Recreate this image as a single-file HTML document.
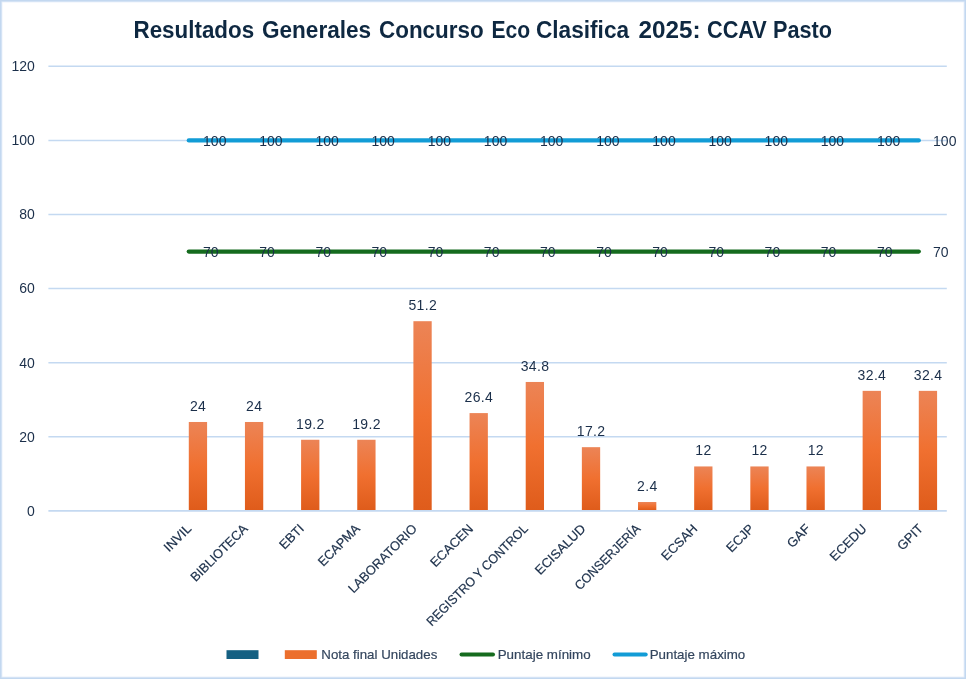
<!DOCTYPE html>
<html><head><meta charset="utf-8"><title>Resultados Generales Concurso Eco Clasifica 2025</title><style>
html,body{margin:0;padding:0;background:#fff;}
body{width:966px;height:679px;overflow:hidden;}
svg{display:block;will-change:transform;}
text{font-family:"Liberation Sans",sans-serif;}
</style></head><body>
<svg width="966" height="679" viewBox="0 0 966 679">
<defs>
<linearGradient id="og" x1="0" y1="0" x2="0" y2="1">
<stop offset="0" stop-color="#ec8456"/>
<stop offset="0.5" stop-color="#f07030"/>
<stop offset="1" stop-color="#df5c1b"/>
</linearGradient>
<filter id="bl" x="-1%" y="-1%" width="102%" height="102%"><feGaussianBlur stdDeviation="0.45"/></filter>
</defs>

<rect x="0" y="0" width="966" height="679" fill="#c3d8f0"/>
<rect x="1.5" y="1.5" width="963" height="676" fill="#e6eef9"/>
<rect x="2.4" y="2.4" width="961.2" height="674.2" fill="#fff"/>
<g font-size="23.5" font-weight="bold" fill="#0e2841">
<text x="133.5" y="38.1" textLength="120.67" lengthAdjust="spacingAndGlyphs">Resultados</text>
<text x="262.0" y="38.1" textLength="109.06" lengthAdjust="spacingAndGlyphs">Generales</text>
<text x="379.0" y="38.1" textLength="104.69" lengthAdjust="spacingAndGlyphs">Concurso</text>
<text x="491.5" y="38.1" textLength="38.71" lengthAdjust="spacingAndGlyphs">Eco</text>
<text x="536.0" y="38.1" textLength="93.07" lengthAdjust="spacingAndGlyphs">Clasifica</text>
<text x="638.5" y="38.1" textLength="62.11" lengthAdjust="spacingAndGlyphs">2025:</text>
<text x="707.0" y="38.1" textLength="59.84" lengthAdjust="spacingAndGlyphs">CCAV</text>
<text x="773" y="38.1" textLength="59" lengthAdjust="spacingAndGlyphs">Pasto</text>
</g>
<line x1="48.4" y1="510.90" x2="946.8" y2="510.90" stroke="#c4d9f1" stroke-width="1.8"/>
<text x="34.8" y="515.70" font-size="14" fill="#1b2f4a" text-anchor="end">0</text>
<line x1="48.4" y1="436.80" x2="946.8" y2="436.80" stroke="#c4d9f1" stroke-width="1.5"/>
<text x="34.8" y="441.60" font-size="14" fill="#1b2f4a" text-anchor="end">20</text>
<line x1="48.4" y1="362.70" x2="946.8" y2="362.70" stroke="#c4d9f1" stroke-width="1.5"/>
<text x="34.8" y="367.50" font-size="14" fill="#1b2f4a" text-anchor="end">40</text>
<line x1="48.4" y1="288.60" x2="946.8" y2="288.60" stroke="#c4d9f1" stroke-width="1.5"/>
<text x="34.8" y="293.40" font-size="14" fill="#1b2f4a" text-anchor="end">60</text>
<line x1="48.4" y1="214.50" x2="946.8" y2="214.50" stroke="#c4d9f1" stroke-width="1.5"/>
<text x="34.8" y="219.30" font-size="14" fill="#1b2f4a" text-anchor="end">80</text>
<line x1="48.4" y1="140.40" x2="946.8" y2="140.40" stroke="#c4d9f1" stroke-width="1.5"/>
<text x="34.8" y="145.20" font-size="14" fill="#1b2f4a" text-anchor="end">100</text>
<line x1="48.4" y1="66.30" x2="946.8" y2="66.30" stroke="#c4d9f1" stroke-width="1.5"/>
<text x="34.8" y="71.10" font-size="14" fill="#1b2f4a" text-anchor="end">120</text>
<rect x="188.79" y="421.98" width="18.3" height="88.02" fill="url(#og)"/>
<text x="198.11" y="410.78" font-size="14" letter-spacing="0.35" fill="#1b2f4a" text-anchor="middle">24</text>
<rect x="244.94" y="421.98" width="18.3" height="88.02" fill="url(#og)"/>
<text x="254.26" y="410.78" font-size="14" letter-spacing="0.35" fill="#1b2f4a" text-anchor="middle">24</text>
<rect x="301.09" y="439.76" width="18.3" height="70.24" fill="url(#og)"/>
<text x="310.41" y="428.56" font-size="14" letter-spacing="0.35" fill="#1b2f4a" text-anchor="middle">19.2</text>
<rect x="357.25" y="439.76" width="18.3" height="70.24" fill="url(#og)"/>
<text x="366.57" y="428.56" font-size="14" letter-spacing="0.35" fill="#1b2f4a" text-anchor="middle">19.2</text>
<rect x="413.40" y="321.20" width="18.3" height="188.80" fill="url(#og)"/>
<text x="422.72" y="310.00" font-size="14" letter-spacing="0.35" fill="#1b2f4a" text-anchor="middle">51.2</text>
<rect x="469.56" y="413.09" width="18.3" height="96.91" fill="url(#og)"/>
<text x="478.88" y="401.89" font-size="14" letter-spacing="0.35" fill="#1b2f4a" text-anchor="middle">26.4</text>
<rect x="525.71" y="381.97" width="18.3" height="128.03" fill="url(#og)"/>
<text x="535.03" y="370.77" font-size="14" letter-spacing="0.35" fill="#1b2f4a" text-anchor="middle">34.8</text>
<rect x="581.86" y="447.17" width="18.3" height="62.83" fill="url(#og)"/>
<text x="591.18" y="435.97" font-size="14" letter-spacing="0.35" fill="#1b2f4a" text-anchor="middle">17.2</text>
<rect x="638.02" y="502.01" width="18.3" height="7.99" fill="url(#og)"/>
<text x="647.34" y="490.81" font-size="14" letter-spacing="0.35" fill="#1b2f4a" text-anchor="middle">2.4</text>
<rect x="694.17" y="466.44" width="18.3" height="43.56" fill="url(#og)"/>
<text x="703.49" y="455.24" font-size="14" letter-spacing="0.35" fill="#1b2f4a" text-anchor="middle">12</text>
<rect x="750.33" y="466.44" width="18.3" height="43.56" fill="url(#og)"/>
<text x="759.64" y="455.24" font-size="14" letter-spacing="0.35" fill="#1b2f4a" text-anchor="middle">12</text>
<rect x="806.48" y="466.44" width="18.3" height="43.56" fill="url(#og)"/>
<text x="815.80" y="455.24" font-size="14" letter-spacing="0.35" fill="#1b2f4a" text-anchor="middle">12</text>
<rect x="862.63" y="390.86" width="18.3" height="119.14" fill="url(#og)"/>
<text x="871.95" y="379.66" font-size="14" letter-spacing="0.35" fill="#1b2f4a" text-anchor="middle">32.4</text>
<rect x="918.79" y="390.86" width="18.3" height="119.14" fill="url(#og)"/>
<text x="928.11" y="379.66" font-size="14" letter-spacing="0.35" fill="#1b2f4a" text-anchor="middle">32.4</text>
<line x1="188.79" y1="140.40" x2="918.79" y2="140.40" stroke="#129cd6" stroke-width="4.3" stroke-linecap="round"/>
<line x1="188.79" y1="251.55" x2="918.79" y2="251.55" stroke="#156b1e" stroke-width="4.3" stroke-linecap="round"/>
<text x="203.09" y="145.70" font-size="14" fill="#1b2f4a">100</text>
<text x="259.24" y="145.70" font-size="14" fill="#1b2f4a">100</text>
<text x="315.39" y="145.70" font-size="14" fill="#1b2f4a">100</text>
<text x="371.55" y="145.70" font-size="14" fill="#1b2f4a">100</text>
<text x="427.70" y="145.70" font-size="14" fill="#1b2f4a">100</text>
<text x="483.86" y="145.70" font-size="14" fill="#1b2f4a">100</text>
<text x="540.01" y="145.70" font-size="14" fill="#1b2f4a">100</text>
<text x="596.16" y="145.70" font-size="14" fill="#1b2f4a">100</text>
<text x="652.32" y="145.70" font-size="14" fill="#1b2f4a">100</text>
<text x="708.47" y="145.70" font-size="14" fill="#1b2f4a">100</text>
<text x="764.62" y="145.70" font-size="14" fill="#1b2f4a">100</text>
<text x="820.78" y="145.70" font-size="14" fill="#1b2f4a">100</text>
<text x="876.93" y="145.70" font-size="14" fill="#1b2f4a">100</text>
<text x="933.09" y="145.70" font-size="14" fill="#1b2f4a">100</text>
<text x="203.09" y="256.85" font-size="14" fill="#1b2f4a">70</text>
<text x="259.24" y="256.85" font-size="14" fill="#1b2f4a">70</text>
<text x="315.39" y="256.85" font-size="14" fill="#1b2f4a">70</text>
<text x="371.55" y="256.85" font-size="14" fill="#1b2f4a">70</text>
<text x="427.70" y="256.85" font-size="14" fill="#1b2f4a">70</text>
<text x="483.86" y="256.85" font-size="14" fill="#1b2f4a">70</text>
<text x="540.01" y="256.85" font-size="14" fill="#1b2f4a">70</text>
<text x="596.16" y="256.85" font-size="14" fill="#1b2f4a">70</text>
<text x="652.32" y="256.85" font-size="14" fill="#1b2f4a">70</text>
<text x="708.47" y="256.85" font-size="14" fill="#1b2f4a">70</text>
<text x="764.62" y="256.85" font-size="14" fill="#1b2f4a">70</text>
<text x="820.78" y="256.85" font-size="14" fill="#1b2f4a">70</text>
<text x="876.93" y="256.85" font-size="14" fill="#1b2f4a">70</text>
<text x="933.09" y="256.85" font-size="14" fill="#1b2f4a">70</text>
<text transform="translate(192.10,529.5) rotate(-45)" font-size="13" fill="#1b2f4a" stroke="#1b2f4a" stroke-width="0.2" text-anchor="end">INVIL</text>
<text transform="translate(248.50,529.5) rotate(-45)" font-size="13" fill="#1b2f4a" stroke="#1b2f4a" stroke-width="0.2" text-anchor="end" textLength="74.48" lengthAdjust="spacingAndGlyphs">BIBLIOTECA</text>
<text transform="translate(304.90,529.5) rotate(-45)" font-size="13" fill="#1b2f4a" stroke="#1b2f4a" stroke-width="0.2" text-anchor="end">EBTI</text>
<text transform="translate(360.70,529.5) rotate(-45)" font-size="13" fill="#1b2f4a" stroke="#1b2f4a" stroke-width="0.2" text-anchor="end" textLength="53.11" lengthAdjust="spacingAndGlyphs">ECAPMA</text>
<text transform="translate(417.70,529.5) rotate(-45)" font-size="13" fill="#1b2f4a" stroke="#1b2f4a" stroke-width="0.2" text-anchor="end" textLength="90.72" lengthAdjust="spacingAndGlyphs">LABORATORIO</text>
<text transform="translate(473.80,529.5) rotate(-45)" font-size="13" fill="#1b2f4a" stroke="#1b2f4a" stroke-width="0.2" text-anchor="end">ECACEN</text>
<text transform="translate(528.80,529.5) rotate(-45)" font-size="13" fill="#1b2f4a" stroke="#1b2f4a" stroke-width="0.2" text-anchor="end" textLength="137.39" lengthAdjust="spacingAndGlyphs">REGISTRO Y CONTROL</text>
<text transform="translate(586.30,529.5) rotate(-45)" font-size="13" fill="#1b2f4a" stroke="#1b2f4a" stroke-width="0.2" text-anchor="end">ECISALUD</text>
<text transform="translate(641.30,529.5) rotate(-45)" font-size="13" fill="#1b2f4a" stroke="#1b2f4a" stroke-width="0.2" text-anchor="end" textLength="86.57" lengthAdjust="spacingAndGlyphs">CONSERJERÍA</text>
<text transform="translate(698.20,529.5) rotate(-45)" font-size="13" fill="#1b2f4a" stroke="#1b2f4a" stroke-width="0.2" text-anchor="end">ECSAH</text>
<text transform="translate(755.00,529.5) rotate(-45)" font-size="13" fill="#1b2f4a" stroke="#1b2f4a" stroke-width="0.2" text-anchor="end">ECJP</text>
<text transform="translate(811.10,529.5) rotate(-45)" font-size="13" fill="#1b2f4a" stroke="#1b2f4a" stroke-width="0.2" text-anchor="end">GAF</text>
<text transform="translate(867.30,529.5) rotate(-45)" font-size="13" fill="#1b2f4a" stroke="#1b2f4a" stroke-width="0.2" text-anchor="end">ECEDU</text>
<text transform="translate(923.90,529.5) rotate(-45)" font-size="13" fill="#1b2f4a" stroke="#1b2f4a" stroke-width="0.2" text-anchor="end">GPIT</text>
<rect x="226.5" y="650.2" width="32" height="8.8" fill="#156082"/>
<rect x="284.8" y="650.2" width="32" height="8.8" fill="#ec6f2d"/>
<text x="321.3" y="658.5" font-size="13.6" fill="#34465e" stroke="#34465e" stroke-width="0.2" textLength="116" lengthAdjust="spacingAndGlyphs">Nota final Unidades</text>
<line x1="461.5" y1="654.6" x2="493" y2="654.6" stroke="#156b1e" stroke-width="4" stroke-linecap="round"/>
<text x="497.7" y="658.5" font-size="13.6" fill="#34465e" stroke="#34465e" stroke-width="0.2" textLength="93" lengthAdjust="spacingAndGlyphs">Puntaje mínimo</text>
<line x1="614.5" y1="654.6" x2="645.7" y2="654.6" stroke="#129cd6" stroke-width="4" stroke-linecap="round"/>
<text x="649.7" y="658.5" font-size="13.6" fill="#34465e" stroke="#34465e" stroke-width="0.2" textLength="95.6" lengthAdjust="spacingAndGlyphs">Puntaje máximo</text>
</svg></body></html>
